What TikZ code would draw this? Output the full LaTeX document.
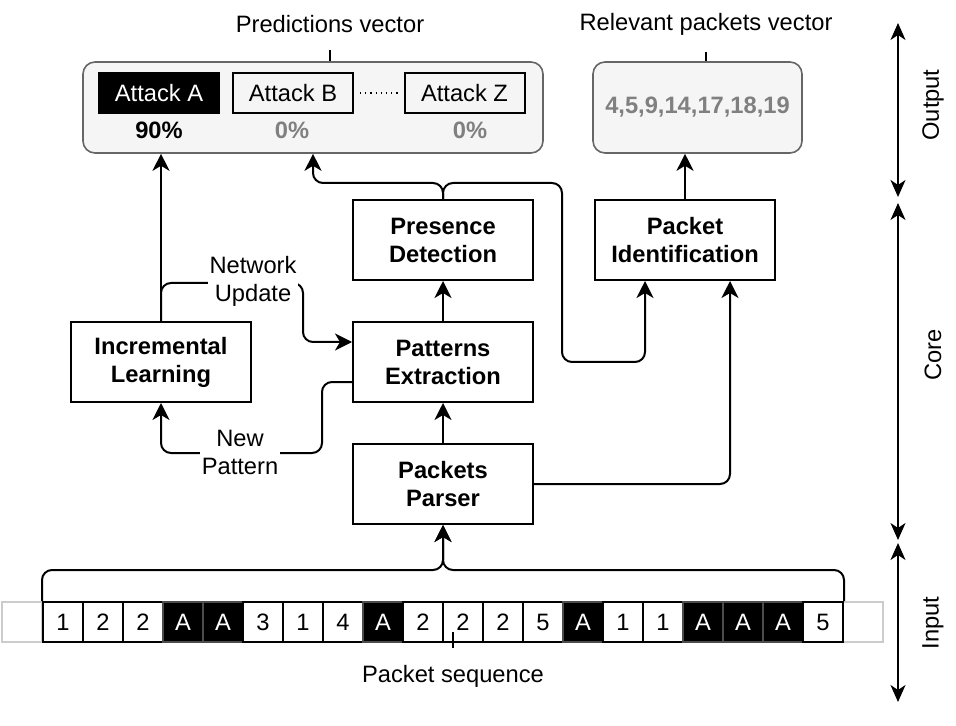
\documentclass[tikz,border=0pt]{standalone}
\usepackage{fontspec}
\setmainfont{Liberation Sans}
\usetikzlibrary{arrows.meta,positioning}
\definecolor{panelfill}{HTML}{F5F5F5}
\definecolor{panelline}{HTML}{666666}
\definecolor{scoregray}{HTML}{808080}
\definecolor{fadedline}{HTML}{CCCCCC}
\newcommand{\diagfont}{\fontsize{11.85}{14}\selectfont}

\begin{document}
\begin{tikzpicture}[x=0.5pt,y=-0.5pt,node distance=20pt,
  every node/.style={font=\diagfont,align=center},
  block/.style={draw,line width=1pt,minimum width=90pt,minimum height=40pt,font=\diagfont\bfseries},
  panel/.style={draw=panelline,fill=panelfill,line width=0.8pt,rounded corners=6pt,minimum height=45.5pt},
  attack/.style={draw,line width=1pt,minimum width=60pt,minimum height=20pt,inner sep=0pt},
  score/.style={font=\diagfont\bfseries},
  cell/.style={draw,line width=1pt,minimum size=20pt,inner sep=0pt},
  cellA/.style={fill=black,draw=black!70,text=white},
  faded/.style={draw=fadedline,line width=1pt,minimum size=20pt,inner sep=0pt},
  flow/.style={line width=1pt,rounded corners=5pt,-{Stealth[length=8.5pt,width=8.5pt,inset=2.5pt]}},
  axis/.style={line width=1pt,{Stealth[length=8.5pt,width=7.5pt,inset=2.5pt]}-{Stealth[length=8.5pt,width=7.5pt,inset=2.5pt]}},
  lbl/.style={fill=white,inner sep=1pt}]
  \useasboundingbox (0,0) rectangle (956,726);

  % output vectors
  \node[panel,minimum width=230pt] (predbox) at (313,107.5) {};
  \node[attack,fill=black,text=white] (atka) at (159,93) {Attack A};
  \node[attack] (atkb) at (293,93) {Attack B};
  \node[attack] (atkz) at (464.5,93) {Attack Z};
  \draw[dotted,line width=0.6pt,shorten <=3pt,shorten >=3pt] (atkb) -- (atkz);
  \node[score] (scorea) at (159,130) {90\%};
  \node[score,text=scoregray] (scoreb) at (292,130) {0\%};
  \node[score,text=scoregray] (scorez) at (470,130) {0\%};
  \node (predlabel) at (330,24) {Predictions vector};
  \draw[line width=0.8pt] ([yshift=-5pt]predlabel.south) -- (predlabel.south |- predbox.north);

  \node[panel,minimum width=104.5pt,font=\diagfont\bfseries,text=scoregray] (relbox) at (697.5,107.5) {4,5,9,14,17,18,19};
  \node (rellabel) at (706,24) {Relevant packets vector};
  \draw[line width=0.8pt] ([yshift=-5pt]rellabel.south) -- (rellabel.south |- relbox.north);

  % core blocks
  \node[block] (pe) at (443,362) {Patterns\\Extraction};
  \node[block,above=of pe] (pd) {Presence\\Detection};
  \node[block,below=of pe] (pp) {Packets\\Parser};
  \node[block,left=50pt of pe] (il) {Incremental\\Learning};
  \node[block,right=30pt of pd] (pi) {Packet\\Identification};

  % packet sequence
  \node[faded] (fadel) at (22,622) {};
  \node[faded] (fader) at (863,622) {};
  \foreach \v [count=\i] in {1,2,2,A,A,3,1,4,A,2,2,2,5,A,1,1,A,A,A,5}
    \node[cell,cell\v/.try] (c\i) at (23+40*\i,622) {\v};
  \node (seqlabel) at (453,676) {Packet sequence};
  \draw[line width=0.8pt] ([yshift=5pt]seqlabel.north) -- ([yshift=13pt]seqlabel.north);

  % connectors
  \coordinate (join) at (443,570);
  \draw[flow] (c1.north west) |- (join) -- (pp.south);
  \draw[flow] (c20.north east) |- (join) -- (pp.south);
  \draw[flow] (pp) -- (pe);
  \draw[flow] (pe) -- (pd);
  \coordinate (split) at (443,183);
  \coordinate (bend) at (562,362);
  \draw[flow] (pd.north) -- (split) -| (predbox.south);
  \draw[flow] (pd.north) -- (split) -| (bend) -| ([xshift=-20pt]pi.south);
  \draw[flow] (pp.east) -| ([xshift=22.5pt]pi.south);
  \draw[flow] (pi.north) -- (pi.north |- relbox.south);
  \draw[flow] (il.north) -- (il.north |- predbox.south);
  \draw[flow] (il.north) |- (303,283) |- ([yshift=10pt]pe.west);
  \node[lbl] (netupd) at (253,281) {Network\\Update};
  \draw[flow] ([yshift=-10pt]pe.west) -| (322,453) -| (il.south);
  \node[lbl] (newpat) at (240,452) {New\\Pattern};

  % layers
  \draw[axis] (898,23) -- (898,197);
  \draw[axis] (898,203) -- (898,540);
  \draw[axis] (898,543) -- (898,702);
  \node[rotate=90] (outlbl) at (933,105) {Output};
  \node[rotate=90] (corelbl) at (933,355) {Core};
  \node[rotate=90] (inlbl) at (933,623) {Input};
\end{tikzpicture}
\end{document}
